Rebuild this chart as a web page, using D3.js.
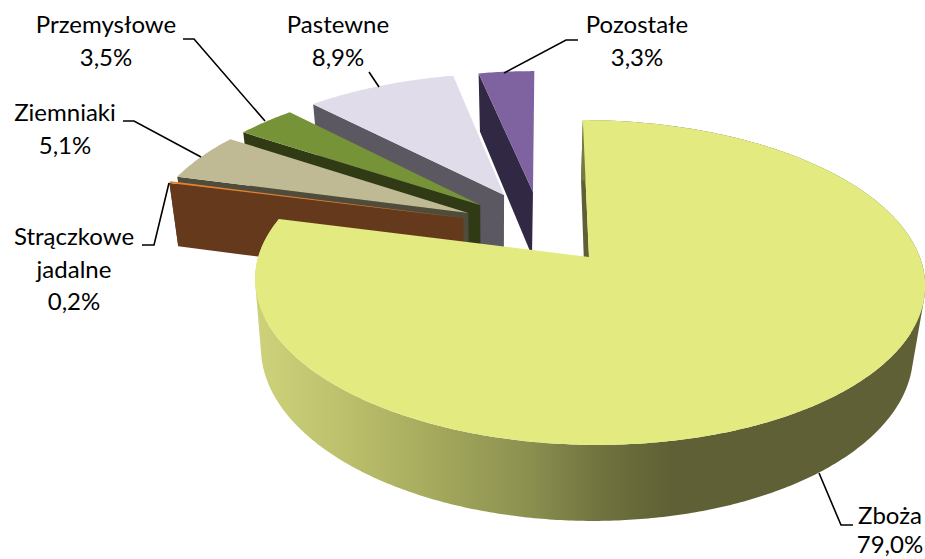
<!DOCTYPE html>
<html><head><meta charset="utf-8">
<script src="https://cdnjs.cloudflare.com/ajax/libs/d3/7.8.5/d3.min.js"></script>
<style>html,body{margin:0;padding:0;background:#fff}svg{display:block}</style>
</head><body><div id="chart"></div>
<script>
const categories = ["Zboża","Strączkowe jadalne","Ziemniaki","Przemysłowe","Pastewne","Pozostałe"];
const values = [79.0,0.2,5.1,3.5,8.9,3.3];
const labelLines = [["Zboża"],["Strączkowe","jadalne"],["Ziemniaki"],["Przemysłowe"],["Pastewne"],["Pozostałe"]];
const topColors  = ["#e3eb80","#e8812c","#bfb994","#779338","#e1dcea","#7f62a0"];
const sideColors = ["#5f6035","#653a1c","#4f4c3c","#303b16","#5c5861","#312843"];
// explosion of every slice in the plane of the pie (radius = 1)
const explodeU = [0,-0.3894,-0.3751,-0.3392,-0.2646,-0.1716];
const explodeV = [0,-0.2561,-0.2905,-0.3461,-0.4171,-0.4386];
const drawOrder = [5,4,3,2,1,0];
const labelPos = [[890,524],[74,245],[65,121],[106,33],[338,33],[637,33]];
const labelStep = [29,32.5,32.5,32.5,32.5,32.5];
const leaders = [
  [[819,473],[841,525],[853,525]],
  [[142,245],[154,245],[169,183]],
  [[123,121],[134,121],[201,157]],
  [[183,39],[194,39],[265,121]],
  [[369,72],[379,87]],
  [[504,73],[566,40],[578,40]]
];

const W=925,H=559;
const svg=d3.select("#chart").append("svg").attr("width",W).attr("height",H);
const k=0.157;
const topPlane={cx:589,cy:257,a:330.8,b:158.4,s:0.045,ref:257};
const botPlane={cx:587,cy:324,a:322,b:166,s:0.035,ref:350};
function project(p,u,v){
  const w=1-k*v, y=p.cy+p.b*v/w;
  return [p.cx+p.a*u/w+p.s*(y-p.ref), y];
}
const fmt=d3.formatLocale({decimal:",",thousands:" ",grouping:[3],currency:["",""]}).format(".1f");
const arcs=d3.pie().sort(null).value(d=>d).startAngle(0).endAngle(2*Math.PI)(values);
const line=d3.line();

function arcPts(i,plane,a0,a1){
  const n=Math.max(2,Math.ceil((a1-a0)/0.01));
  return d3.range(n+1).map(j=>{
    const t=a0+(a1-a0)*j/n;
    return project(plane,explodeU[i]+Math.sin(t),explodeV[i]-Math.cos(t));
  });
}
const defs=svg.append("defs");
const grad=defs.append("linearGradient").attr("id","wall").attr("gradientUnits","userSpaceOnUse")
  .attr("x1",258).attr("x2",925).attr("y1",0).attr("y2",0);
[[0,"#cdd27a"],[0.13,"#bcc06c"],[0.27,"#a3a85c"],[0.40,"#8d9150"],[0.52,"#6f713e"],[0.62,"#5f6035"],[1,"#5f6035"]]
  .forEach(s=>grad.append("stop").attr("offset",s[0]).attr("stop-color",s[1]));

const g=svg.append("g");
drawOrder.forEach(i=>{
  const a=arcs[i], c=[explodeU[i],explodeV[i]];
  const apexT=project(topPlane,c[0],c[1]), apexB=project(botPlane,c[0],c[1]);
  const topArc=arcPts(i,topPlane,a.startAngle,a.endAngle);
  const botArc=arcPts(i,botPlane,a.startAngle,a.endAngle);
  // radial face along the start edge
  g.append("path").attr("d",line([topArc[0],apexT,apexB,botArc[0]])+"Z").attr("fill",sideColors[i]);
  // outer wall: one path of like-wound strips between the upper and the lower rim
  if(i<2){
    const wall=d3.range(topArc.length-1).map(j=>{
      const q=[topArc[j],topArc[j+1],botArc[j+1],botArc[j]];
      return line(d3.polygonArea(q)<0?q.reverse():q)+"Z";
    }).join("");
    g.append("path").attr("d",wall).attr("fill",i===0?"url(#wall)":sideColors[i]);
  }
  // top face
  g.append("path").attr("d",line([apexT].concat(topArc))+"Z").attr("fill",topColors[i]);
});

svg.append("g").selectAll("path").data(leaders).join("path")
  .attr("d",d=>line(d)).attr("fill","none").attr("stroke","#000").attr("stroke-width",1.6);

const t=svg.append("g").attr("font-family","Lato, Carlito, sans-serif").attr("font-size",24).attr("fill","#000").attr("text-anchor","middle");
categories.forEach((c,i)=>{
  const lines=labelLines[i].concat([fmt(values[i])+"%"]);
  lines.forEach((s,j)=>t.append("text").attr("x",labelPos[i][0]).attr("y",labelPos[i][1]+j*labelStep[i]).text(s));
});
</script></body></html>
